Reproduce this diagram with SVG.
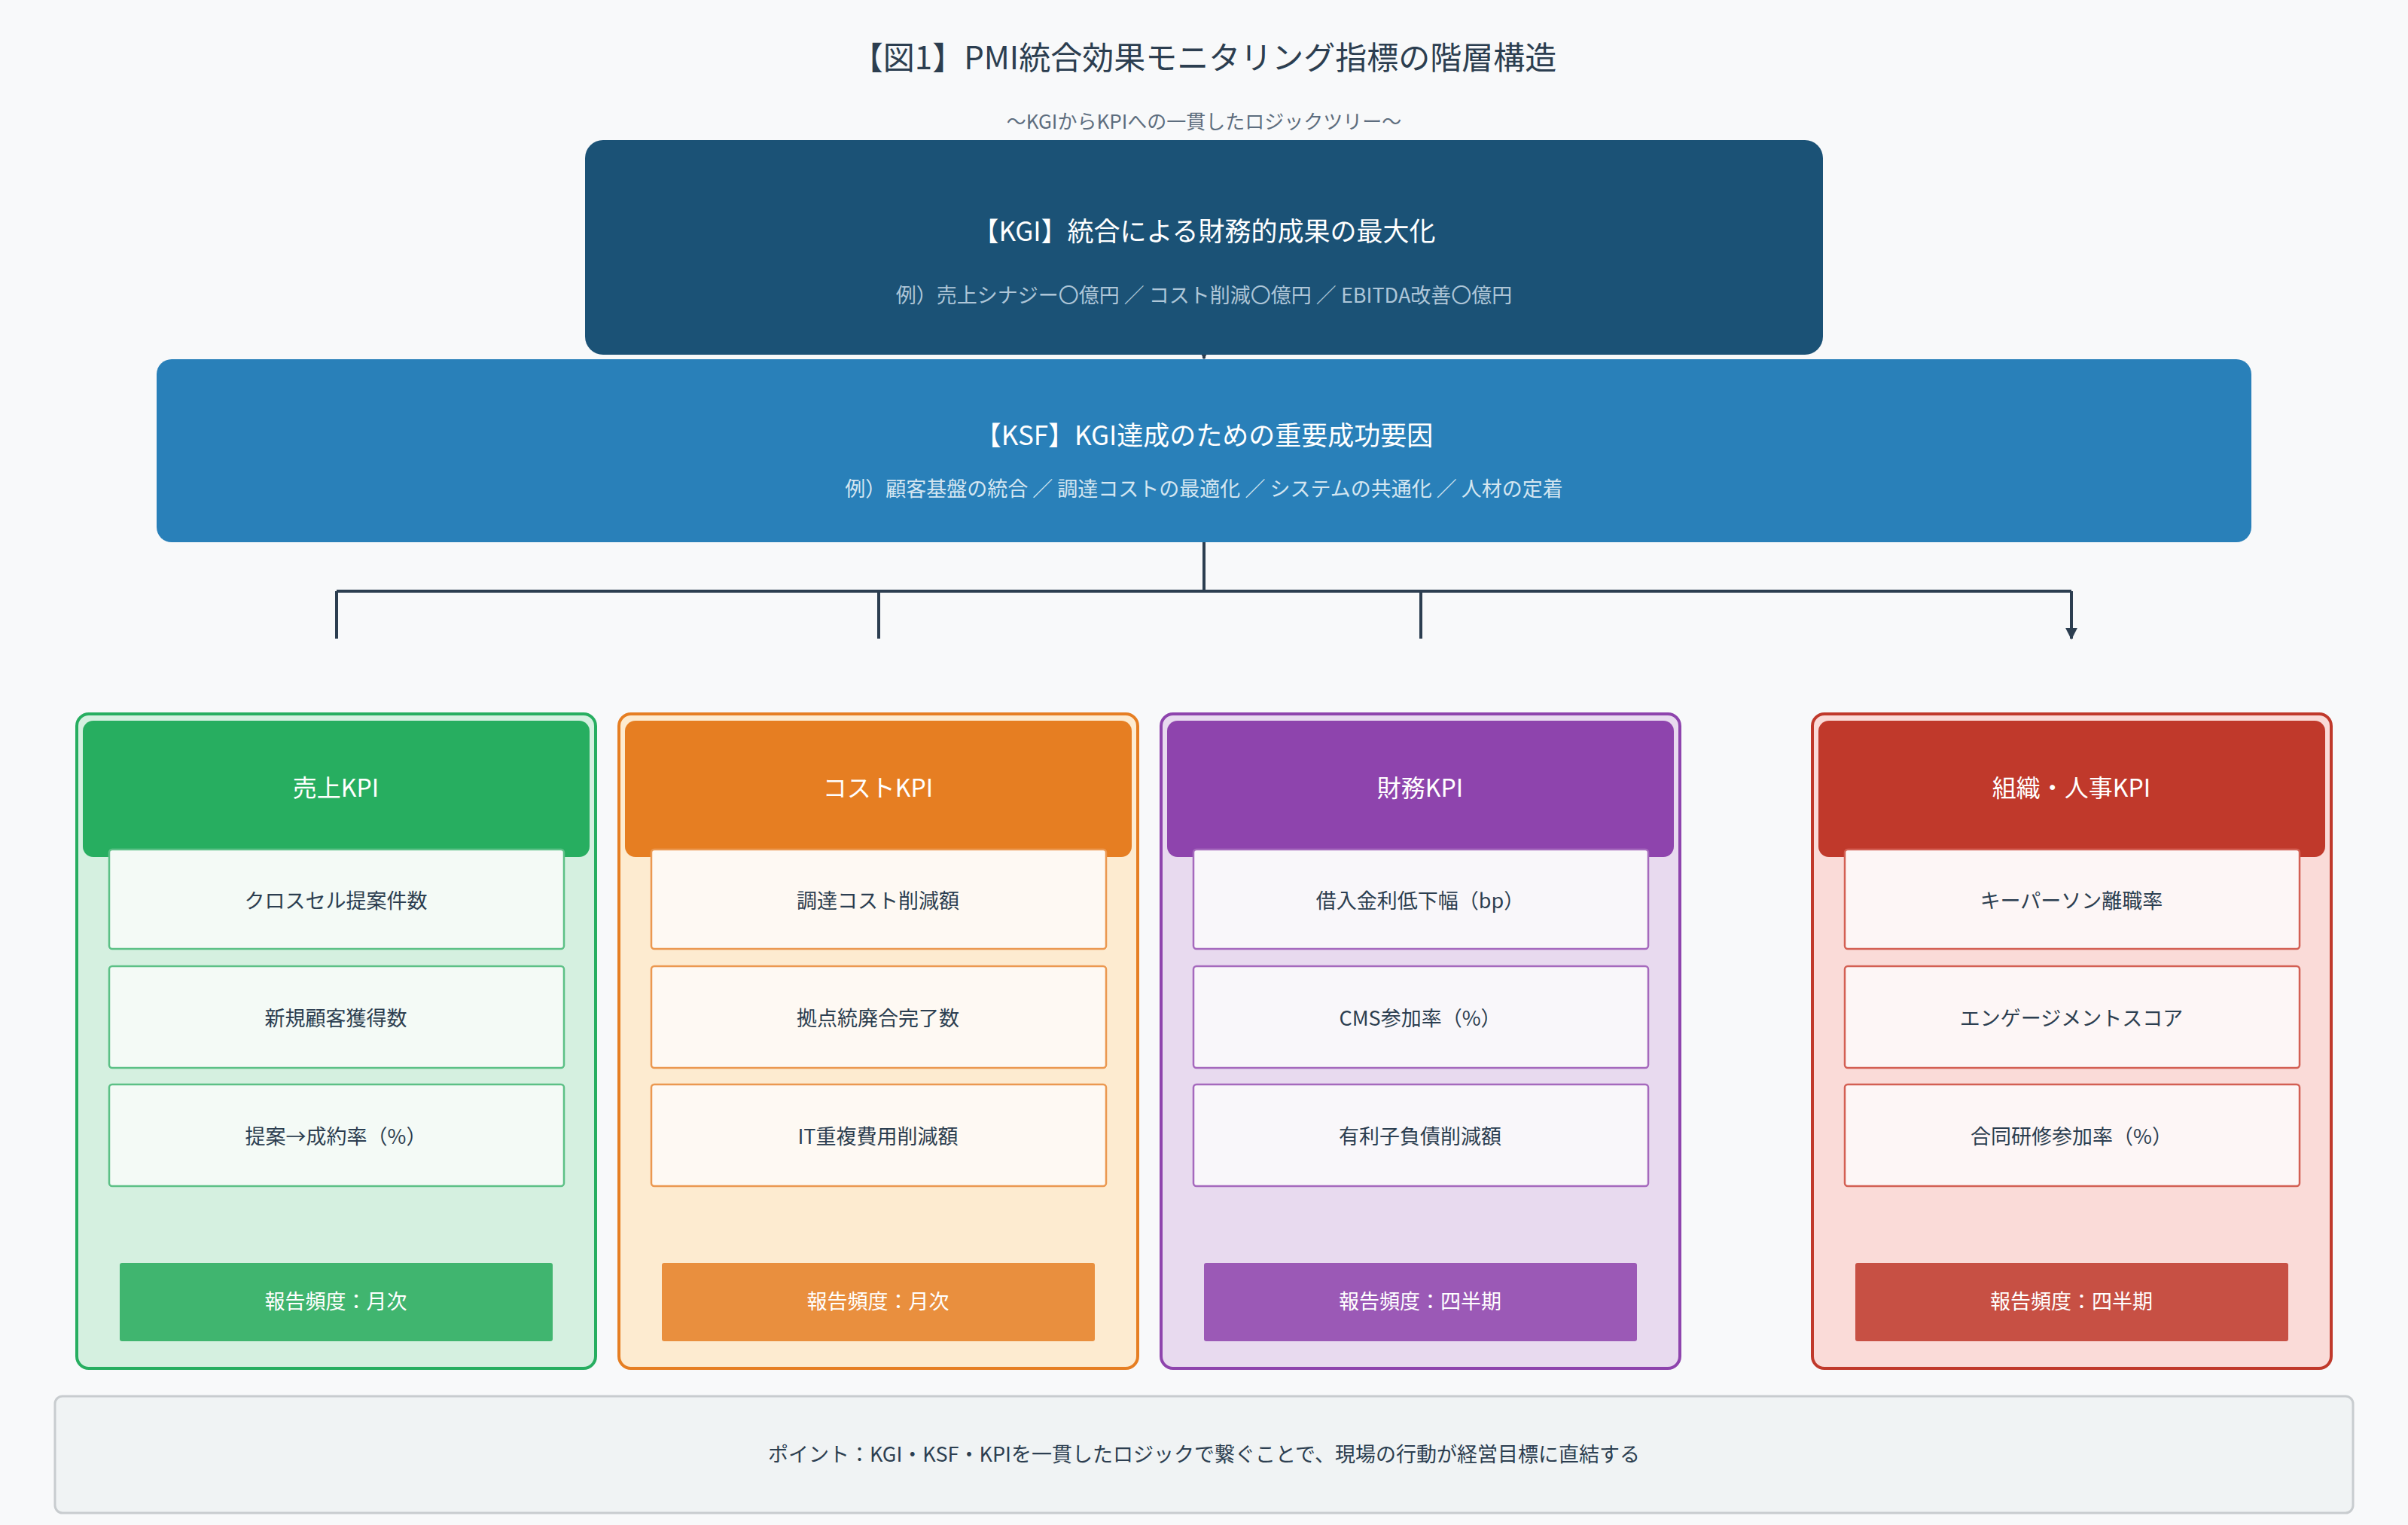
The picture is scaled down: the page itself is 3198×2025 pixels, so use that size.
<svg xmlns="http://www.w3.org/2000/svg" width="3198" height="2025" viewBox="0 0 3198 2025">
<style>
text{font-family:"Noto Sans CJK JP","Noto Sans",sans-serif;text-anchor:middle;dominant-baseline:central}
.hd{fill:#fff;font-size:32px}
.it{fill:#2c3e50;font-size:27px}
.fq{fill:#fff;font-size:27px}
.item{stroke-width:2.5}
.conn{stroke:#2c3e50;stroke-width:4;fill:none}
</style>
<defs><marker id="ah" viewBox="0 0 10 10" refX="9" refY="5" markerWidth="4" markerHeight="4" orient="auto"><path d="M0,0L10,5L0,10z" fill="#2c3e50"/></marker></defs>
<rect width="3198" height="2025" fill="#f8f9fa"/>
<text x="1599" y="73" font-size="42" fill="#2c3e50">【図1】PMI統合効果モニタリング指標の階層構造</text>
<text x="1599" y="159" font-size="26" fill="#5d6d7e">〜KGIからKPIへの一貫したロジックツリー〜</text>
<g id="connectors">
<path class="conn" d="M1599 445V476" marker-end="url(#ah)"/>
<path class="conn" d="M1599 698V785M447 785H2751M447 785V848M1167 785V848M1887 785V848M2751 785V848" />
<path class="conn" d="M447 800V848M1167 800V848M1887 800V848M2751 800V848" marker-end="url(#ah)"/>
</g>
<g id="kgi"><rect x="777" y="186" width="1644" height="285" rx="24" fill="#1b5276"/>
<text x="1599" y="304" font-size="35" fill="#fff">【KGI】統合による財務的成果の最大化</text>
<text x="1599" y="390" font-size="27" fill="#aec6d8">例）売上シナジー〇億円 ／ コスト削減〇億円 ／ EBITDA改善〇億円</text></g>
<g id="ksf"><rect x="208" y="477" width="2782" height="243" rx="20" fill="#2980b9"/>
<text x="1599" y="575" font-size="35" fill="#fff">【KSF】KGI達成のための重要成功要因</text>
<text x="1599" y="647" font-size="27" fill="#d4e6f1">例）顧客基盤の統合 ／ 調達コストの最適化 ／ システムの共通化 ／ 人材の定着</text></g>
<g id="sales" transform="translate(102,0)">
<rect x="0" y="948" width="689" height="869" rx="16" fill="#d5f0e0" stroke="#27ae60" stroke-width="4"/>
<rect x="8" y="957" width="673" height="181" rx="14" fill="#27ae60"/>
<text class="hd" x="344" y="1044">売上KPI</text>
<rect class="item" x="43" y="1128" width="604" height="132" rx="4" fill="#f4faf6" stroke="#5cc086"/><text class="it" x="344" y="1194">クロスセル提案件数</text>
<rect class="item" x="43" y="1283" width="604" height="135" rx="4" fill="#f4faf6" stroke="#5cc086"/><text class="it" x="344" y="1350">新規顧客獲得数</text>
<rect class="item" x="43" y="1440" width="604" height="135" rx="4" fill="#f4faf6" stroke="#5cc086"/><text class="it" x="344" y="1507">提案→成約率（%）</text>
<rect x="57" y="1677" width="575" height="104" rx="3" fill="#40b56f"/><text class="fq" x="344" y="1726">報告頻度：月次</text></g>
<g id="cost" transform="translate(822,0)">
<rect x="0" y="948" width="689" height="869" rx="16" fill="#fdebd0" stroke="#e67e22" stroke-width="4"/>
<rect x="8" y="957" width="673" height="181" rx="14" fill="#e67e22"/>
<text class="hd" x="344" y="1044">コストKPI</text>
<rect class="item" x="43" y="1128" width="604" height="132" rx="4" fill="#fef9f3" stroke="#eb9850"/><text class="it" x="344" y="1194">調達コスト削減額</text>
<rect class="item" x="43" y="1283" width="604" height="135" rx="4" fill="#fef9f3" stroke="#eb9850"/><text class="it" x="344" y="1350">拠点統廃合完了数</text>
<rect class="item" x="43" y="1440" width="604" height="135" rx="4" fill="#fef9f3" stroke="#eb9850"/><text class="it" x="344" y="1507">IT重複費用削減額</text>
<rect x="57" y="1677" width="575" height="104" rx="3" fill="#e98f3e"/><text class="fq" x="344" y="1726">報告頻度：月次</text></g>
<g id="finance" transform="translate(1542,0)">
<rect x="0" y="948" width="689" height="869" rx="16" fill="#e8daef" stroke="#8e44ad" stroke-width="4"/>
<rect x="8" y="957" width="673" height="181" rx="14" fill="#8e44ad"/>
<text class="hd" x="344" y="1044">財務KPI</text>
<rect class="item" x="43" y="1128" width="604" height="132" rx="4" fill="#f9f7fa" stroke="#a569bd"/><text class="it" x="344" y="1194">借入金利低下幅（bp）</text>
<rect class="item" x="43" y="1283" width="604" height="135" rx="4" fill="#f9f7fa" stroke="#a569bd"/><text class="it" x="344" y="1350">CMS参加率（%）</text>
<rect class="item" x="43" y="1440" width="604" height="135" rx="4" fill="#f9f7fa" stroke="#a569bd"/><text class="it" x="344" y="1507">有利子負債削減額</text>
<rect x="57" y="1677" width="575" height="104" rx="3" fill="#9b59b6"/><text class="fq" x="344" y="1726">報告頻度：四半期</text></g>
<g id="hr" transform="translate(2407,0)">
<rect x="0" y="948" width="689" height="869" rx="16" fill="#fadbd8" stroke="#c0392b" stroke-width="4"/>
<rect x="8" y="957" width="673" height="181" rx="14" fill="#c0392b"/>
<text class="hd" x="344" y="1044">組織・人事KPI</text>
<rect class="item" x="43" y="1128" width="604" height="132" rx="4" fill="#fdf6f6" stroke="#d35f53"/><text class="it" x="344" y="1194">キーパーソン離職率</text>
<rect class="item" x="43" y="1283" width="604" height="135" rx="4" fill="#fdf6f6" stroke="#d35f53"/><text class="it" x="344" y="1350">エンゲージメントスコア</text>
<rect class="item" x="43" y="1440" width="604" height="135" rx="4" fill="#fdf6f6" stroke="#d35f53"/><text class="it" x="344" y="1507">合同研修参加率（%）</text>
<rect x="57" y="1677" width="575" height="104" rx="3" fill="#c75044"/><text class="fq" x="344" y="1726">報告頻度：四半期</text></g>
<g id="note"><rect x="73" y="1854" width="3052" height="155" rx="10" fill="#f0f3f4" stroke="#c8cccf" stroke-width="3"/>
<text x="1599" y="1929" font-size="27" fill="#2c3e50">ポイント：KGI・KSF・KPIを一貫したロジックで繋ぐことで、現場の行動が経営目標に直結する</text></g>
</svg>
